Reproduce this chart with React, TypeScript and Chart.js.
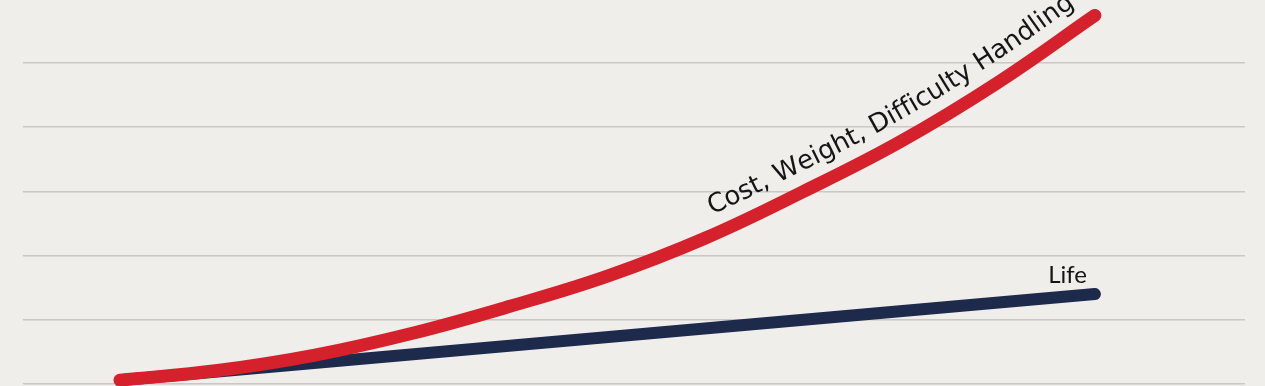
import React, { useEffect, useRef } from "react";
import { Chart, registerables } from "chart.js";

Chart.register(...registerables);

// ---- data ----
const xValues = [0, 1, 2, 3, 4, 5, 6, 7, 8, 9, 10];
const costValues = [0.06, 0.21, 0.45, 0.79, 1.21, 1.68, 2.27, 2.99, 3.77, 4.69, 5.74];
const lifeX = [0, 10];
const lifeValues = [0.06, 1.4];
const gridTicks = [0, 1, 2, 3, 4, 5];
const costLabel = "Cost, Weight, Difficulty Handling";
const lifeLabel = "Life";

// label anchors (data units)
const COST_LABEL_START_X = 6.12;
const COST_LABEL_OFFSET = 19;
const LIFE_LABEL_X = 9.72;
const LIFE_LABEL_Y = 1.57;

const BG = "#efeeeb";
const RED = "#d5212c";
const NAVY = "#1e2a4c";

const labelPlugin = {
  id: "curveLabels",
  afterDatasetsDraw(chart: any) {
    const ctx = chart.ctx;
    const xs = chart.scales.x;
    const ys = chart.scales.y;
    const meta = chart.getDatasetMeta(0);
    const els = meta.data as any[];
    const pts: { x: number; y: number }[] = [];
    for (let i = 0; i < els.length - 1; i++) {
      const a = els[i];
      const b = els[i + 1];
      const c1x = a.cp2x ?? a.x, c1y = a.cp2y ?? a.y;
      const c2x = b.cp1x ?? b.x, c2y = b.cp1y ?? b.y;
      for (let k = 0; k < 30; k++) {
        const t = k / 30;
        const mt = 1 - t;
        const x = mt * mt * mt * a.x + 3 * mt * mt * t * c1x + 3 * mt * t * t * c2x + t * t * t * b.x;
        const y = mt * mt * mt * a.y + 3 * mt * mt * t * c1y + 3 * mt * t * t * c2y + t * t * t * b.y;
        pts.push({ x, y });
      }
    }
    const last = els[els.length - 1];
    pts.push({ x: last.x, y: last.y });
    const cum: number[] = [0];
    for (let i = 1; i < pts.length; i++) {
      cum.push(cum[i - 1] + Math.hypot(pts[i].x - pts[i - 1].x, pts[i].y - pts[i - 1].y));
    }
    const total = cum[cum.length - 1];
    const at = (s: number) => {
      if (s <= 0) return pts[0];
      if (s >= total) {
        const a = pts[pts.length - 2], b = pts[pts.length - 1];
        const d = Math.hypot(b.x - a.x, b.y - a.y) || 1;
        return { x: b.x + ((b.x - a.x) / d) * (s - total), y: b.y + ((b.y - a.y) / d) * (s - total) };
      }
      let i = 1;
      while (cum[i] < s) i++;
      const f = (s - cum[i - 1]) / (cum[i] - cum[i - 1] || 1);
      return { x: pts[i - 1].x + f * (pts[i].x - pts[i - 1].x), y: pts[i - 1].y + f * (pts[i].y - pts[i - 1].y) };
    };
    const startPx = xs.getPixelForValue(COST_LABEL_START_X);
    let s = 0;
    for (let i = 0; i < pts.length; i++) {
      if (pts[i].x >= startPx) { s = cum[i]; break; }
    }
    ctx.save();
    ctx.font = "26px 'DejaVu Sans'";
    ctx.fillStyle = "#151515";
    ctx.textBaseline = "alphabetic";
    for (const ch of costLabel) {
      const w = ctx.measureText(ch).width;
      const mid = s + w / 2;
      const p = at(mid);
      const p1 = at(mid - 14);
      const p2 = at(mid + 14);
      const ang = Math.atan2(p2.y - p1.y, p2.x - p1.x);
      const nx = Math.sin(ang);
      const ny = -Math.cos(ang);
      ctx.save();
      ctx.translate(p.x + nx * COST_LABEL_OFFSET, p.y + ny * COST_LABEL_OFFSET);
      ctx.rotate(ang);
      ctx.fillText(ch, -w / 2, 0);
      ctx.restore();
      s += w;
    }
    ctx.font = "24px Lato";
    ctx.textAlign = "center";
    ctx.fillText(lifeLabel, xs.getPixelForValue(LIFE_LABEL_X), ys.getPixelForValue(LIFE_LABEL_Y));
    ctx.restore();
  },
};

export default function App() {
  const ref = useRef<HTMLCanvasElement | null>(null);
  useEffect(() => {
    document.body.style.margin = "0";
    document.body.style.background = BG;
    const canvas = ref.current;
    if (!canvas) return;
    const chart = new Chart(canvas, {
      type: "line",
      data: {
        datasets: [
          {
            label: costLabel,
            data: xValues.map((x, i) => ({ x, y: costValues[i] })),
            borderColor: RED,
            borderWidth: 13,
            borderCapStyle: "round",
            borderJoinStyle: "round",
            pointRadius: 0,
            tension: 0.4,
            fill: false,
            clip: false as any,
          },
          {
            label: lifeLabel,
            data: lifeX.map((x, i) => ({ x, y: lifeValues[i] })),
            borderColor: NAVY,
            borderWidth: 12,
            borderCapStyle: "round",
            pointRadius: 0,
            fill: false,
            clip: false as any,
          },
        ],
      },
      options: {
        responsive: false,
        animation: false,
        layout: { padding: { left: 23, right: 20, top: 0, bottom: 2 } },
        plugins: { legend: { display: false }, tooltip: { enabled: false } },
        scales: {
          x: {
            type: "linear",
            min: -0.995,
            max: 11.54,
            display: false,
          },
          y: {
            type: "linear",
            min: 0,
            max: 5.98,
            afterBuildTicks: (scale: any) => {
              scale.ticks = gridTicks.map((v) => ({ value: v }));
            },
            ticks: { display: false },
            border: { display: false },
            grid: { color: "#c9c8c5", lineWidth: 1.6, drawTicks: false },
          },
        },
      },
      plugins: [labelPlugin],
    } as any);
    return () => chart.destroy();
  }, []);
  return (
    <div style={{ width: 1265, height: 386, background: BG, overflow: "hidden" }}>
      <canvas ref={ref} width={1265} height={386} style={{ display: "block" }} />
    </div>
  );
}
